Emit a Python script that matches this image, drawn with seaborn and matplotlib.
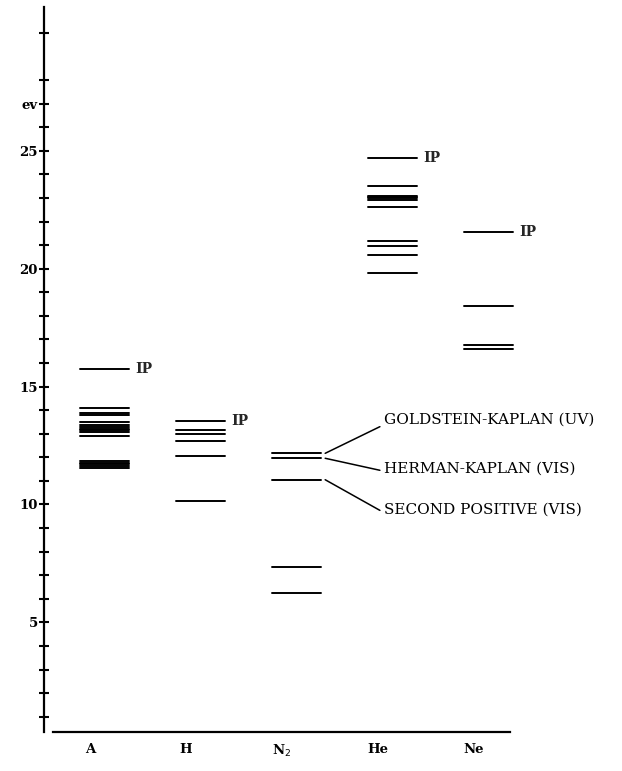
import matplotlib
matplotlib.use("Agg")
import matplotlib.pyplot as plt
import seaborn as sns
import pandas as pd
import numpy as np

# ---- data (eV) ----
species = ["A", "H", "N$_2$", "He", "Ne"]
levels_A = [11.55, 11.62, 11.70, 11.78, 11.84, 12.90, 13.08, 13.15, 13.22, 13.30, 13.38, 13.48, 13.80, 13.90, 14.10, 15.76]
levels_H = [10.16, 12.06, 12.70, 12.97, 13.17, 13.53]
levels_N2 = [6.25, 7.33, 11.05, 11.96, 12.17]
levels_He = [19.80, 20.57, 20.96, 21.17, 22.62, 22.92, 22.98, 23.04, 23.10, 23.52, 24.70]
levels_Ne = [16.60, 16.78, 18.42, 21.55]
ip_A, ip_H, ip_He, ip_Ne = 15.76, 13.53, 24.70, 21.55
annot_labels = ["GOLDSTEIN-KAPLAN (UV)", "HERMAN-KAPLAN (VIS)", "SECOND POSITIVE (VIS)"]
annot_levels = [12.17, 11.96, 11.05]
annot_text_y = [13.55, 11.45, 9.75]
ytick_major = [5, 10, 15, 20, 25]
ytick_all = [1, 2, 3, 4, 5, 6, 7, 8, 9, 10, 11, 12, 13, 14, 15, 16, 17, 18, 19, 20,
             21, 22, 23, 24, 25, 26, 27, 28, 30]

all_levels = [levels_A, levels_H, levels_N2, levels_He, levels_Ne]

rows = []
uid = 0
for i, (sp, lv) in enumerate(zip(species, all_levels)):
    for e in lv:
        rows.append(dict(x=i - 0.10, E=e, id=uid))
        rows.append(dict(x=i + 0.41, E=e, id=uid))
        uid += 1
df = pd.DataFrame(rows)

sns.set_theme(style="white")
plt.rcParams['font.family'] = ['DejaVu Serif']

fig = plt.figure(figsize=(6.22, 7.71), dpi=100)
ax = fig.add_axes([44 / 622, 39 / 771, (610 - 44) / 622, (764 - 39) / 771])

sns.lineplot(data=df, x="x", y="E", units="id", estimator=None, color="black",
             lw=1.4, ax=ax, legend=False)

ax.set_xlim(-0.479, 5.417)
ax.set_ylim(0.35, 31.1)

# spines
for s in ["top", "right"]:
    ax.spines[s].set_visible(False)
ax.spines["left"].set_color("black")
ax.spines["left"].set_linewidth(1.6)
ax.spines["bottom"].set_color("black")
ax.spines["bottom"].set_linewidth(1.6)
ax.spines["bottom"].set_bounds(-0.385, 4.375)

# y ticks
ax.set_yticks(ytick_all)
lab = []
for t in ytick_all:
    if t in ytick_major:
        lab.append(str(t))
    elif t == 27:
        lab.append("ev")
    else:
        lab.append("")
ax.set_yticklabels(lab, fontsize=9.5, fontweight="bold")
ax.tick_params(axis="y", direction="inout", length=7, width=1.5, pad=1, colors="black", left=True)

# x ticks
ax.set_xticks(range(len(species)))
ax.set_xticklabels(species, fontsize=9.5, fontweight="bold")
ax.tick_params(axis="x", length=0, pad=8, colors="black")
ax.set_xlabel("")
ax.set_ylabel("")

# IP labels
for i, ip in [(0, ip_A), (1, ip_H), (3, ip_He), (4, ip_Ne)]:
    ax.text(i + 0.47, ip, "IP", fontsize=10, fontweight="bold", va="center", ha="left")

# annotations for N2
tx = 3.06
for txt, lv, ty in zip(annot_labels, annot_levels, annot_text_y):
    ax.plot([2.45, tx - 0.04], [lv, ty - 0.25 if ty > 12 else ty], color="black", lw=1.1)
    ax.text(tx, ty + 0.05, txt, fontsize=11, va="center", ha="left", color="black")

fig.savefig("out.png", dpi=100)
